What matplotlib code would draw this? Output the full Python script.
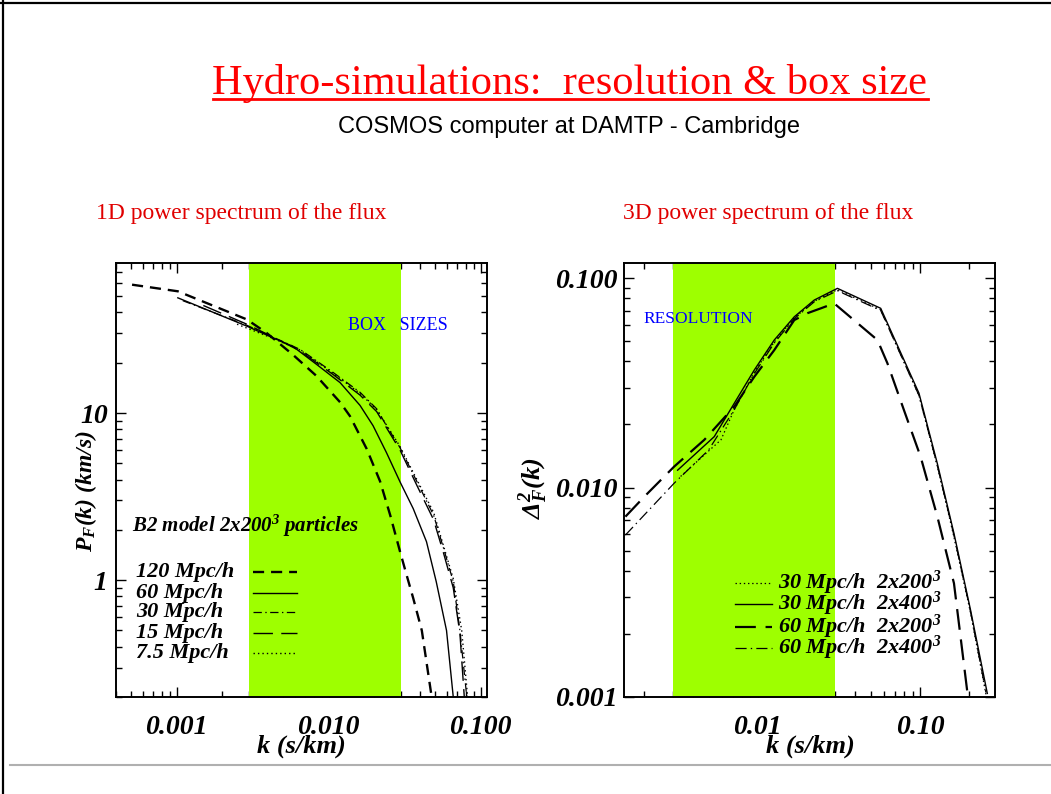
import matplotlib
matplotlib.use("Agg")
import matplotlib.pyplot as plt
from matplotlib.lines import Line2D
from matplotlib.ticker import FixedLocator, LogLocator, NullFormatter, FixedFormatter

# ---- 1D flux power spectrum, B2 model 2x200^3, different box sizes ----
k_120 = [0.00051, 0.00102, 0.0029, 0.0039, 0.0058, 0.0083, 0.0119, 0.0138,
         0.0178, 0.0218, 0.0254, 0.0295, 0.0326, 0.036, 0.041, 0.0476]
p_120 = [58.6, 53.5, 36.3, 30.2, 22.4, 16.7, 11.6, 9.6,
         6.1, 3.9, 2.45, 1.48, 1.07, 0.78, 0.50, 0.20]

k_60 = [0.00102, 0.0029, 0.0043, 0.0058, 0.0083, 0.0119, 0.0161, 0.0196,
        0.024, 0.0295, 0.036, 0.044, 0.051, 0.0596, 0.066]
p_60 = [48.9, 33.1, 28.2, 25.1, 19.6, 15.2, 11.1, 8.4,
        5.8, 3.87, 2.68, 1.70, 0.98, 0.50, 0.20]

k_30 = [0.0011, 0.0029, 0.0043, 0.0065, 0.0107, 0.0161, 0.0207, 0.024,
        0.0295, 0.038, 0.049, 0.057, 0.066, 0.073, 0.081]
p_30 = [47.0, 33.5, 28.5, 24.0, 17.5, 13.3, 10.6, 8.4,
        6.2, 3.9, 2.45, 1.55, 0.98, 0.50, 0.20]

k_15 = [0.0015, 0.0029, 0.0043, 0.0065, 0.0107, 0.0161, 0.0207, 0.0295,
        0.038, 0.049, 0.057, 0.066, 0.073, 0.078]
p_15 = [44.0, 34.0, 28.5, 23.5, 17.0, 12.8, 10.2, 6.0,
        3.7, 2.3, 1.45, 0.90, 0.48, 0.20]

k_7p5 = [0.0025, 0.0043, 0.0065, 0.0107, 0.0161, 0.0207, 0.0295, 0.038,
         0.049, 0.057, 0.066, 0.075, 0.082]
p_7p5 = [34.0, 28.0, 23.8, 17.3, 13.1, 10.5, 6.3, 4.0,
         2.55, 1.6, 1.02, 0.50, 0.20]

box_labels = ["120 Mpc/h", "60 Mpc/h", "30 Mpc/h", "15 Mpc/h", "7.5 Mpc/h"]

# ---- 3D flux power spectrum, two boxes at two resolutions ----
k_30_200 = [0.00335, 0.00594, 0.00716, 0.00953, 0.01265, 0.0168, 0.0223, 0.031,
            0.0573, 0.0986, 0.128, 0.162, 0.205, 0.255]
d_30_200 = [0.0113, 0.0169, 0.0235, 0.0355, 0.0495, 0.0645, 0.0775, 0.088,
            0.0705, 0.0275, 0.0126, 0.0058, 0.00252, 0.00103]

k_30_400 = [0.00321, 0.0054, 0.00716, 0.00953, 0.01265, 0.0168, 0.0223, 0.031,
            0.0573, 0.0986, 0.128, 0.162, 0.205, 0.26]
d_30_400 = [0.0121, 0.0175, 0.0252, 0.0364, 0.0506, 0.0653, 0.0785, 0.0893,
            0.0717, 0.0282, 0.013, 0.00604, 0.0026, 0.00104]

k_60_200 = [0.00153, 0.002, 0.00306, 0.00469, 0.00716, 0.00953, 0.01265, 0.0168,
            0.0203, 0.0245, 0.0296, 0.0547, 0.063, 0.0797, 0.101, 0.128, 0.162, 0.196]
d_60_200 = [0.00726, 0.00904, 0.0126, 0.0169, 0.0243, 0.0338, 0.0453, 0.063,
            0.068, 0.0717, 0.0757, 0.0506, 0.0392, 0.0234, 0.014, 0.00726, 0.00349, 0.00105]

k_60_400 = [0.00153, 0.00306, 0.00498, 0.00716, 0.00953, 0.01265, 0.0168, 0.0223,
            0.031, 0.0573, 0.0986, 0.128, 0.162, 0.205, 0.255]
d_60_400 = [0.00593, 0.0105, 0.0151, 0.0235, 0.035, 0.049, 0.064, 0.077,
            0.087, 0.070, 0.0275, 0.0127, 0.0059, 0.00255, 0.00105]

res_labels = ["30 Mpc/h  2x200$^3$", "30 Mpc/h  2x400$^3$",
              "60 Mpc/h  2x200$^3$", "60 Mpc/h  2x400$^3$"]

# shaded k range and axis ticks
band = (0.003, 0.03)
x1_ticks, x1_labels = [0.001, 0.01, 0.1], ["0.001", "0.010", "0.100"]
y1_ticks, y1_labels = [1, 10], ["1", "10"]
x2_ticks, x2_labels = [0.01, 0.1], ["0.01", "0.10"]
y2_ticks, y2_labels = [0.001, 0.01, 0.1], ["0.001", "0.010", "0.100"]

plt.rcParams["font.family"] = "Liberation Serif"
plt.rcParams["font.style"] = "italic"
plt.rcParams["font.weight"] = "bold"
plt.rcParams["mathtext.fontset"] = "custom"
plt.rcParams["mathtext.rm"] = "Liberation Serif:bold:italic"
plt.rcParams["mathtext.it"] = "Liberation Serif:bold:italic"
plt.rcParams["mathtext.bf"] = "Liberation Serif:bold:italic"
plt.rcParams["lines.scale_dashes"] = False

W, H = 1051, 794
GREEN = "#9eff00"


def fx(px):
    return px / W


def fy(py):
    return 1 - py / H


fig = plt.figure(figsize=(W / 100, H / 100), dpi=100)

ax1 = fig.add_axes([fx(116), fy(697), (487 - 116) / W, (697 - 263) / H])
ax2 = fig.add_axes([fx(624), fy(697), (995 - 624) / W, (697 - 263) / H])


def style_axes(ax, xt, xl, yt, yl, xlim, ylim, ypad):
    ax.set_xscale("log")
    ax.set_yscale("log")
    ax.set_xlim(*xlim)
    ax.set_ylim(*ylim)
    ax.xaxis.set_major_locator(FixedLocator(xt))
    ax.xaxis.set_major_formatter(FixedFormatter(xl))
    ax.yaxis.set_major_locator(FixedLocator(yt))
    ax.yaxis.set_major_formatter(FixedFormatter(yl))
    for axis in (ax.xaxis, ax.yaxis):
        axis.set_minor_locator(LogLocator(base=10, subs=range(2, 10), numticks=20))
        axis.set_minor_formatter(NullFormatter())
    ax.tick_params(which="both", direction="in", top=True, right=True,
                   width=1.0, labelsize=20)
    ax.tick_params(which="major", length=7)
    ax.tick_params(which="minor", length=4)
    ax.tick_params(axis="x", pad=13)
    ax.tick_params(axis="y", pad=ypad)
    for sp in ax.spines.values():
        sp.set_linewidth(1.4)
        sp.set_zorder(4)
    ax.axvspan(*band, color=GREEN, lw=0, zorder=2)


style_axes(ax1, x1_ticks, x1_labels, y1_ticks, y1_labels, (0.0004, 0.11), (0.2, 79), 6)
style_axes(ax2, x2_ticks, x2_labels, y2_ticks, y2_labels, (0.0015, 0.29), (0.001, 0.118), 5)

# left panel curves
left_styles = [
    dict(color="k", lw=1.7, dashes=(8, 5)),
    dict(color="k", lw=1.0, ls="-"),
    dict(color="k", lw=0.9, dashes=(6, 2.5, 1, 2.5)),
    dict(color="k", lw=1.0, dashes=(14, 6)),
    dict(color="k", lw=1.0, dashes=(1, 2.2)),
]
left_data = [(k_120, p_120), (k_60, p_60), (k_30, p_30), (k_15, p_15), (k_7p5, p_7p5)]
for (k, p), st in zip(left_data, left_styles):
    ax1.plot(k, p, zorder=3, **st)

ax1.text(0.043, 0.394, "B2 model 2x200$^3$ particles", transform=ax1.transAxes,
         fontsize=15, va="center", zorder=5)
rows1 = [0.288, 0.240, 0.196, 0.147, 0.101]
for lab, st, yy in zip(box_labels, left_styles, rows1):
    ax1.text(0.054, yy, lab, transform=ax1.transAxes, fontsize=16,
             va="center", zorder=5)
    ax1.plot([0.369, 0.488], [yy, yy], transform=ax1.transAxes, zorder=5, **st)

# right panel curves
right_styles = [
    dict(color="k", lw=0.9, dashes=(1, 2)),
    dict(color="k", lw=1.0, ls="-"),
    dict(color="k", lw=1.6, dashes=(15, 7)),
    dict(color="k", lw=0.9, dashes=(8, 3, 1, 3)),
]
right_data = [(k_30_200, d_30_200), (k_30_400, d_30_400),
              (k_60_200, d_60_200), (k_60_400, d_60_400)]
for (k, d), st in zip(right_data, right_styles):
    ax2.plot(k, d, zorder=3, **st)

rows2 = [0.263, 0.214, 0.161, 0.113]
for lab, st, yy in zip(res_labels, right_styles, rows2):
    ax2.plot([0.299, 0.399], [yy, yy], transform=ax2.transAxes, zorder=5, **st)
    ax2.text(0.415, yy, lab, transform=ax2.transAxes, fontsize=16,
             va="center", zorder=5)

# blue notes
plain = dict(family="Liberation Serif", style="normal", weight="normal")
fig.text(fx(348), fy(326), "BOX   SIZES", color="#0000ff", fontsize=13,
         va="center", **plain)
fig.text(fx(643), fy(319), "RESOLUTION", color="#0000ff", fontsize=12.5,
         va="center", **plain)

# axis labels
fig.text(fx(301.5), fy(746), "k (s/km)", ha="center", va="center", fontsize=19)
fig.text(fx(810), fy(746), "k (s/km)", ha="center", va="center", fontsize=19)
fig.text(fx(86), fy(491), "$P_F(k)$ (km/s)", ha="center", va="center",
         rotation=90, fontsize=17)
fig.text(fx(533), fy(488), r"$\Delta^2_F(k)$", ha="center", va="center",
         rotation=90, fontsize=19)

# headings
title = fig.text(fx(570), fy(94), "Hydro-simulations:  resolution & box size",
                 ha="center", va="baseline", color="#ff0000", fontsize=30.5, **plain)
fig.text(fx(569), fy(127), "COSMOS computer at DAMTP - Cambridge", ha="center",
         va="center", fontsize=17, family="Liberation Sans", style="normal",
         weight="normal")
fig.text(fx(96), fy(213), "1D power spectrum of the flux", va="center",
         color="#e00000", fontsize=17, **plain)
fig.text(fx(623), fy(213), "3D power spectrum of the flux", va="center",
         color="#e00000", fontsize=17, **plain)

fig.canvas.draw()
bb = title.get_window_extent(fig.canvas.get_renderer())
fig.add_artist(Line2D([bb.x0 / W, bb.x1 / W], [fy(98.5), fy(98.5)],
                      color="#ff0000", lw=2.0))

# page frame
fig.add_artist(Line2D([fx(3), fx(3)], [0, 1], color="k", lw=1.6))
fig.add_artist(Line2D([0, 1], [fy(3), fy(3)], color="k", lw=1.6))
fig.add_artist(Line2D([fx(10), 1], [fy(765), fy(765)], color="#b0b0b0", lw=1.5))

fig.savefig("out.png", dpi=100)
